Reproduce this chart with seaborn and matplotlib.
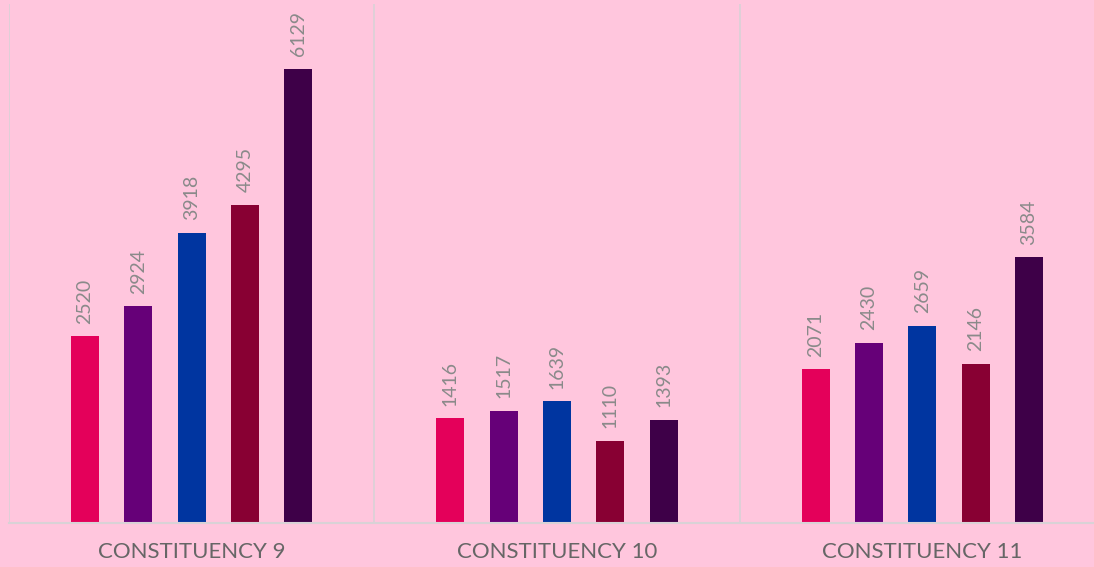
"""Grouped bar chart of votes per constituency."""

import matplotlib.pyplot as plt
import pandas as pd
import seaborn as sns

constituencies = ["CONSTITUENCY 9", "CONSTITUENCY 10", "CONSTITUENCY 11"]
parties = ["A", "B", "C", "D", "E"]
votes = {
    "A": [2520, 1416, 2071],
    "B": [2924, 1517, 2430],
    "C": [3918, 1639, 2659],
    "D": [4295, 1110, 2146],
    "E": [6129, 1393, 3584],
}
bar_colors = ["#E4005A", "#660078", "#0035A0", "#880033", "#3E0048"]

bg = "#FFC6DD"
grid_col = "#D9D2D6"

rows = []
for p in parties:
    for c, v in zip(constituencies, votes[p]):
        rows.append({"constituency": c, "party": p, "votes": v})
df = pd.DataFrame(rows)

sns.set_style("white")
plt.rcParams["font.family"] = ["Lato", "DejaVu Sans"]

fig = plt.figure(figsize=(10.94, 5.67), dpi=100, facecolor=bg)
ax = fig.add_axes([9 / 1094, 44 / 567, 1096 / 1094, 519 / 567])
ax.set_facecolor(bg)

sns.barplot(
    data=df, x="constituency", y="votes", hue="party",
    palette=bar_colors, width=0.73, gap=0.47, legend=False, ax=ax,
    saturation=1, linewidth=0,
)

for cont in ax.containers:
    ax.bar_label(cont, padding=9, rotation=90, color="#8A8A8A", fontsize=14)

ax.set_ylim(0, 7000)
ax.set_xlim(-0.5, 2.5)
for b in [-0.5, 0.5, 1.5]:
    ax.axvline(b, color=grid_col, lw=1.2, zorder=0)

for s in ["top", "right", "left"]:
    ax.spines[s].set_visible(False)
ax.spines["bottom"].set_color(grid_col)
ax.spines["bottom"].set_linewidth(1.5)

ax.set_yticks([])
ax.set_xlabel("")
ax.set_ylabel("")
ax.tick_params(axis="x", length=0, pad=14, labelsize=16, labelcolor="#666666")

fig.savefig("out.png", dpi=100, facecolor=bg)
